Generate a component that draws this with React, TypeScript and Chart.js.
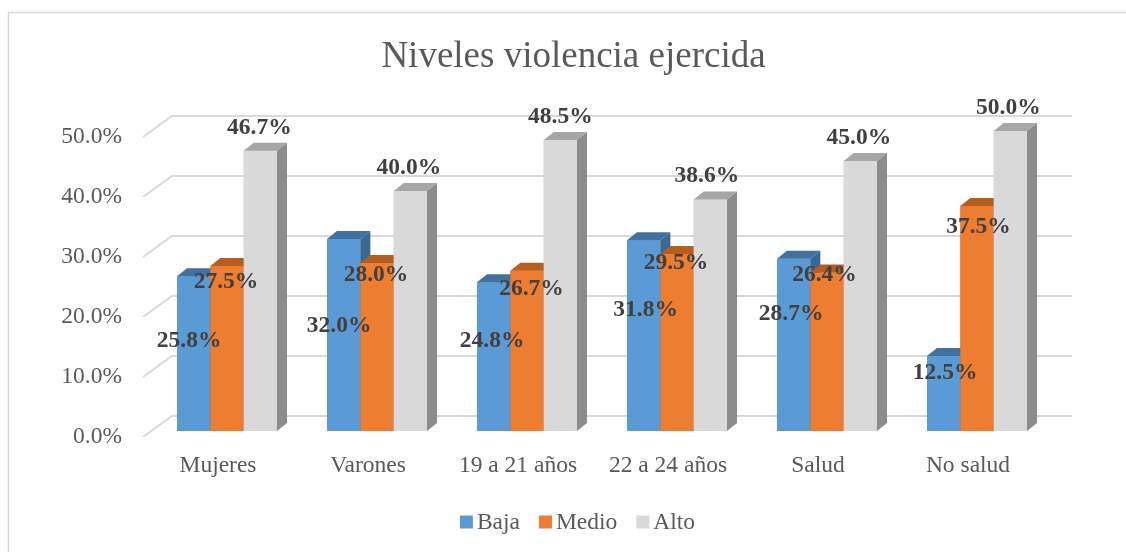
import React, { useEffect, useRef } from "react";
import { Chart, registerables } from "chart.js";

Chart.register(...registerables);

// ---- data ----
const categories = ["Mujeres", "Varones", "19 a 21 años", "22 a 24 años", "Salud", "No salud"];
const seriesNames = ["Baja", "Medio", "Alto"];
const baja = [25.8, 32.0, 24.8, 31.8, 28.7, 12.5];
const medio = [27.5, 28.0, 26.7, 29.5, 26.4, 37.5];
const alto = [46.7, 40.0, 48.5, 38.6, 45.0, 50.0];
const yTicks = [0, 10, 20, 30, 40, 50];
const titleText = "Niveles violencia ejercida";

// label nudges (pixels, relative to bar top centre) – manual placement in source chart
const bajaNudgeX = [-4.5, -4.5, -1.5, 2, -2.5, 1.5];
const bajaNudgeY = [65, 87, 59, 70, 55, 17];
const medioNudgeX = [-1, -1, 4.5, -1, -2.5, 1.5];
const medioNudgeY = [16, 12, 18, 8.5, 2.5, 21];
const altoNudgeX = [-1, -1.5, 0, -3.5, -1.5, -2];
const altoNudgeY = [-23, -23, -23, -23, -23, -23];

// ---- style ----
const frontColors = ["#5B9BD5", "#ED7D31", "#D9D9D9"];
const topColors = ["#41719C", "#B85D20", "#A6A6A6"];
const sideColors = ["#3A6894", "#A9541A", "#8C8C8C"];
const DX = 10;
const DY = 8;
const FONT = '"Liberation Serif", "Times New Roman", serif';
const TEXT = "#595959";
const LABEL = "#404040";
const GRID = "#D9D9D9";

const nudges = [
  [bajaNudgeX, bajaNudgeY],
  [medioNudgeX, medioNudgeY],
  [altoNudgeX, altoNudgeY],
];

const fmt = (v: number) => v.toFixed(1) + "%";

const threeD = {
  id: "threeD",
  beforeDatasetsDraw(chart: any) {
    const ctx = chart.ctx;
    const area = chart.chartArea;
    const ys = chart.scales.y;
    const xs = chart.scales.x;
    ctx.save();
    // outer border
    ctx.strokeStyle = GRID;
    ctx.lineWidth = 1.5;
    ctx.strokeRect(8.5, 12.5, 1200, 600);

    // title
    ctx.fillStyle = TEXT;
    ctx.font = `37px ${FONT}`;
    ctx.textAlign = "center";
    ctx.textBaseline = "alphabetic";
    ctx.fillText(titleText, 573.5, 67);

    // back wall gridlines + floor/side diagonals
    ctx.strokeStyle = GRID;
    ctx.lineWidth = 2;
    yTicks.forEach((v) => {
      const py = ys.getPixelForValue(v);
      ctx.beginPath();
      ctx.moveTo(area.left - 9, py + 6);
      ctx.lineTo(area.left + 20, py - 15);
      ctx.lineTo(area.right + 20, py - 15);
      ctx.stroke();
    });

    // y tick labels
    ctx.fillStyle = TEXT;
    ctx.font = `23.5px ${FONT}`;
    ctx.textAlign = "right";
    ctx.textBaseline = "middle";
    yTicks.forEach((v) => {
      const py = ys.getPixelForValue(v);
      ctx.fillText(fmt(v), 122, py + 6);
    });

    // category labels
    ctx.textAlign = "center";
    categories.forEach((c, i) => {
      const px = xs.getPixelForValue(i);
      ctx.fillText(c, px - 9, area.bottom + 35);
    });

    // legend
    ctx.font = `23.5px ${FONT}`;
    const box = 13;
    const gapBoxText = 4;
    const gapItems = 19;
    const widths = seriesNames.map((n) => box + gapBoxText + ctx.measureText(n).width);
    const total = widths.reduce((a, b) => a + b, 0) + gapItems * (seriesNames.length - 1);
    let lx = 577.5 - total / 2;
    const ly = 522;
    ctx.textAlign = "left";
    seriesNames.forEach((n, i) => {
      ctx.fillStyle = frontColors[i];
      ctx.fillRect(lx, ly - box / 2, box, box);
      ctx.fillStyle = TEXT;
      ctx.fillText(n, lx + box + gapBoxText, ly + 1);
      lx += widths[i] + gapItems;
    });
    ctx.restore();
  },
  afterDatasetsDraw(chart: any) {
    const ctx = chart.ctx;
    ctx.save();
    // redraw bars left-to-right so each bar's front hides the previous bar's side
    chart.data.datasets.forEach((_ds: any, di: number) => {
      const meta = chart.getDatasetMeta(di);
      meta.data.forEach((bar: any) => {
        bar.draw(ctx, chart.chartArea);
        const { x, y, base, width } = bar.getProps(["x", "y", "base", "width"], true);
        const l = x - width / 2;
        const r = x + width / 2;
        ctx.fillStyle = topColors[di];
        ctx.beginPath();
        ctx.moveTo(l, y);
        ctx.lineTo(l + DX, y - DY);
        ctx.lineTo(r + DX, y - DY);
        ctx.lineTo(r, y);
        ctx.closePath();
        ctx.fill();
        ctx.fillStyle = sideColors[di];
        ctx.beginPath();
        ctx.moveTo(r, y);
        ctx.lineTo(r + DX, y - DY);
        ctx.lineTo(r + DX, base - DY);
        ctx.lineTo(r, base);
        ctx.closePath();
        ctx.fill();
      });
    });

    // data labels
    ctx.fillStyle = LABEL;
    ctx.font = `bold 23.5px ${FONT}`;
    ctx.textAlign = "center";
    ctx.textBaseline = "middle";
    chart.data.datasets.forEach((ds: any, di: number) => {
      const meta = chart.getDatasetMeta(di);
      meta.data.forEach((bar: any, j: number) => {
        const { x, y } = bar.getProps(["x", "y"], true);
        const [nx, ny] = nudges[di];
        ctx.fillText(fmt(ds.data[j]), x + nx[j], y + ny[j]);
      });
    });
    ctx.restore();
  },
};

export default function App() {
  const ref = useRef<HTMLCanvasElement>(null);
  useEffect(() => {
    if (!ref.current) return;
    const chart = new Chart(ref.current, {
      type: "bar",
      data: {
        labels: categories,
        datasets: [baja, medio, alto].map((d, i) => ({
          label: seriesNames[i],
          data: d,
          backgroundColor: frontColors[i],
          borderWidth: 0,
          categoryPercentage: 100 / 150,
          barPercentage: 1,
        })),
      },
      options: {
        animation: false,
        responsive: false,
        devicePixelRatio: 1,
        layout: { padding: { left: 152, right: 74, top: 131, bottom: 121 } },
        scales: {
          x: { display: false },
          y: { display: false, min: 0, max: 50 },
        },
        plugins: {
          legend: { display: false },
          title: { display: false },
          tooltip: { enabled: false },
        },
      },
      plugins: [threeD],
    });
    return () => chart.destroy();
  }, []);
  return (
    <div style={{ position: "absolute", left: 0, top: 0, width: 1126, height: 552, background: "#fff" }}>
      <canvas ref={ref} width={1126} height={552} style={{ display: "block" }} />
    </div>
  );
}
